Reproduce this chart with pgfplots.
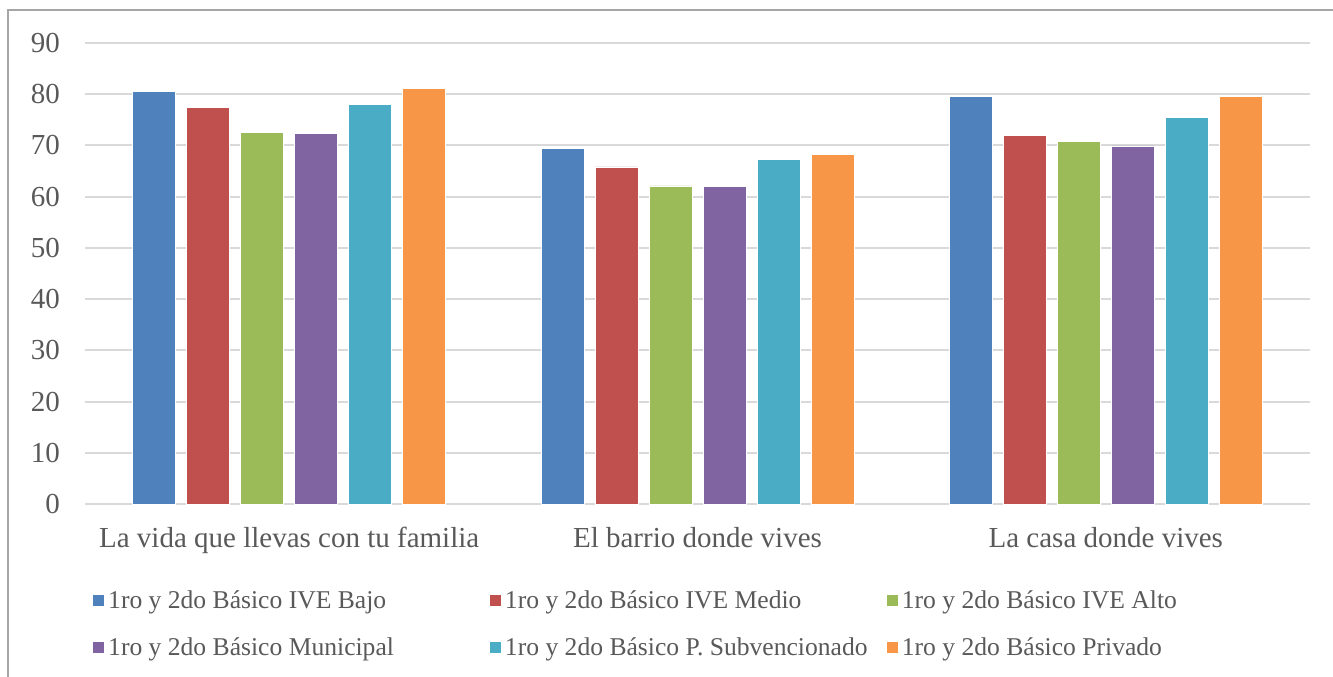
\documentclass[border=0pt]{standalone}
\usepackage{pgfplots}
\pgfplotsset{compat=1.18}
\usepackage{fontspec}
\setmainfont{Liberation Serif}

\definecolor{txt}{HTML}{595959}
\definecolor{gridc}{HTML}{D9D9D9}
\definecolor{frame}{HTML}{A6A6A6}
\definecolor{cA}{HTML}{4F81BD}
\definecolor{cB}{HTML}{C0504D}
\definecolor{cC}{HTML}{9BBB59}
\definecolor{cD}{HTML}{8064A2}
\definecolor{cE}{HTML}{4BACC6}
\definecolor{cF}{HTML}{F79646}

\newcommand{\lentry}[1]{\makebox[189pt][l]{#1}}

\begin{document}
\begin{tikzpicture}
  % page = 1333x676 px at 0.5pt per px, axis origin at px (85,504)
  \path[use as bounding box] (-42.5pt,-86pt) rectangle (624pt,252pt);
  \draw[frame, line width=0.8pt] (-38.5pt,-90pt) -- (-38.5pt,247pt) -- (630pt,247pt);
  \begin{axis}[
      scale only axis,
      width=612.5pt,
      height=230.5pt,
      ybar=5.5pt,
      bar width=21.5pt,
      xmin=-0.5, xmax=2.5,
      ymin=0, ymax=90,
      xtick=data,
      xticklabels={La vida que llevas con tu familia, El barrio donde vives, La casa donde vives},
      ytick={0,10,...,90},
      axis line style={draw=none},
      major tick length=0pt,
      ymajorgrids,
      grid style={gridc, line width=1pt},
      tick label style={font=\fontsize{14.5}{16}\selectfont, text=txt},
      xticklabel style={yshift=-8pt},
      yticklabel style={xshift=-9pt},
      /pgf/number format/assume math mode=true,
      legend columns=3,
      legend cell align=left,
      legend style={
        at={(0,0)}, anchor=north west, xshift=0.5pt, yshift=-39pt,
        draw=none, font=\fontsize{12.8}{15}\selectfont, text=txt,
        nodes={inner xsep=1.5pt},
        /tikz/every even column/.append style={column sep=0pt},
        row sep=9pt,
      },
      legend image code/.code={\fill[#1] (0pt,-3pt) rectangle (6pt,3pt);},
    ]
    \addplot[fill=cA, draw=white, line width=0.4pt] coordinates {(0,80.5) (1,69.5) (2,79.5)};
    \addplot[fill=cB, draw=white, line width=0.4pt] coordinates {(0,77.5) (1,65.8) (2,71.9)};
    \addplot[fill=cC, draw=white, line width=0.4pt] coordinates {(0,72.5) (1,62.1) (2,70.8)};
    \addplot[fill=cD, draw=white, line width=0.4pt] coordinates {(0,72.3) (1,62.0) (2,69.9)};
    \addplot[fill=cE, draw=white, line width=0.4pt] coordinates {(0,78.0) (1,67.2) (2,75.4)};
    \addplot[fill=cF, draw=white, line width=0.4pt] coordinates {(0,81.2) (1,68.2) (2,79.5)};
    \addlegendentry{\lentry{1ro y 2do Básico IVE Bajo}}
    \addlegendentry{\lentry{1ro y 2do Básico IVE Medio}}
    \addlegendentry{1ro y 2do Básico IVE Alto}
    \addlegendentry{\lentry{1ro y 2do Básico Municipal}}
    \addlegendentry{\lentry{1ro y 2do Básico P. Subvencionado}}
    \addlegendentry{1ro y 2do Básico Privado}
  \end{axis}
\end{tikzpicture}
\end{document}
